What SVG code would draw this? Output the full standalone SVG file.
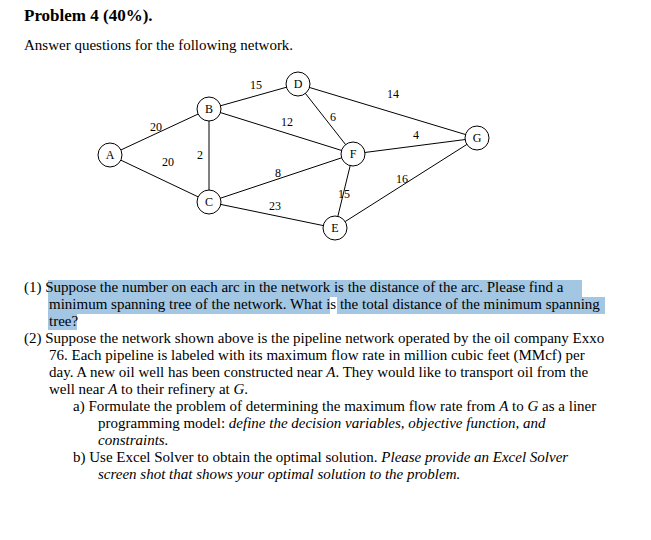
<svg xmlns="http://www.w3.org/2000/svg" width="651" height="540" viewBox="0 0 651 540">
<style>
text{font-family:"Liberation Serif",serif;fill:#000}
.t{font-size:15px}
.n circle{fill:#fff;stroke:#000;stroke-width:1}
.n text{font-size:12px;text-anchor:middle}
.e line{stroke:#000;stroke-width:1}
.w{font-size:12px;text-anchor:middle}
.hl{fill:#a3c6e3}
</style>
<rect width="651" height="540" fill="#fff"/>
<text x="24" y="21" style="font-size:17px;font-weight:bold">Problem 4 (40%).</text>
<text x="24" y="50" class="t">Answer questions for the following network.</text>
<g class="e">
<line x1="110" y1="155" x2="209" y2="109"/>
<line x1="110" y1="155" x2="209" y2="202"/>
<line x1="209" y1="109" x2="209" y2="202"/>
<line x1="209" y1="109" x2="298" y2="84"/>
<line x1="209" y1="109" x2="353" y2="154"/>
<line x1="298" y1="84" x2="353" y2="154"/>
<line x1="298" y1="84" x2="477" y2="138"/>
<line x1="353" y1="154" x2="477" y2="138"/>
<line x1="209" y1="202" x2="353" y2="154"/>
<line x1="209" y1="202" x2="335" y2="228"/>
<line x1="353" y1="154" x2="335" y2="228"/>
<line x1="335" y1="228" x2="477" y2="138"/>
</g>
<g class="w">
<text x="256" y="89">15</text><text x="393" y="98">14</text><text x="156" y="131">20</text>
<text x="287" y="126">12</text><text x="333" y="121">6</text><text x="416" y="139">4</text>
<text x="168" y="166">20</text><text x="200" y="159">2</text><text x="278" y="177">8</text>
<text x="402" y="183">16</text><text x="344" y="198">15</text><text x="275" y="210">23</text>
</g>
<g id="A" class="n"><circle cx="110" cy="155" r="12"/><text x="110" y="159">A</text></g>
<g id="B" class="n"><circle cx="209" cy="109" r="12"/><text x="209" y="113">B</text></g>
<g id="C" class="n"><circle cx="209" cy="202" r="12"/><text x="209" y="206">C</text></g>
<g id="D" class="n"><circle cx="298" cy="84" r="12"/><text x="298" y="88">D</text></g>
<g id="F" class="n"><circle cx="353" cy="154" r="12"/><text x="353" y="158">F</text></g>
<g id="G" class="n"><circle cx="477" cy="138" r="12"/><text x="477" y="142">G</text></g>
<g id="E" class="n"><circle cx="335" cy="228" r="12"/><text x="335" y="232">E</text></g>
<rect class="hl" x="48" y="280" width="534" height="17"/>
<rect class="hl" x="48" y="297" width="282" height="17"/>
<rect class="hl" x="337" y="297" width="268" height="17"/>
<rect class="hl" x="48" y="314" width="29" height="16"/>
<g class="t">
<text x="24" y="292">(1) Suppose the number on each arc in the network is the distance of the arc.  Please find a</text>
<text x="49" y="309">minimum spanning tree of the network.  What is the total distance of the minimum spanning</text>
<text x="49" y="326">tree?</text>
<text x="24" y="343">(2) Suppose the network shown above is the pipeline network operated by the oil company Exxo</text>
<text x="49" y="360">76.  Each pipeline is labeled with its maximum flow rate in million cubic feet (MMcf) per</text>
<text x="49" y="377">day. A new oil well has been constructed near <tspan font-style="italic">A</tspan>. They would like to transport oil from the</text>
<text x="49" y="394">well near <tspan font-style="italic">A</tspan> to their refinery at <tspan font-style="italic">G</tspan>.</text>
<text x="73" y="411">a)  Formulate the problem of determining the maximum flow rate from <tspan font-style="italic">A</tspan> to <tspan font-style="italic">G</tspan> as a liner</text>
<text x="98" y="428">programming model: <tspan font-style="italic">define the decision variables, objective function, and</tspan></text>
<text x="98" y="445" font-style="italic">constraints.</text>
<text x="73" y="462">b)  Use Excel Solver to obtain the optimal solution.  <tspan font-style="italic">Please provide an Excel Solver</tspan></text>
<text x="98" y="479" font-style="italic">screen shot that shows your optimal solution to the problem.</text>
</g>
</svg>
